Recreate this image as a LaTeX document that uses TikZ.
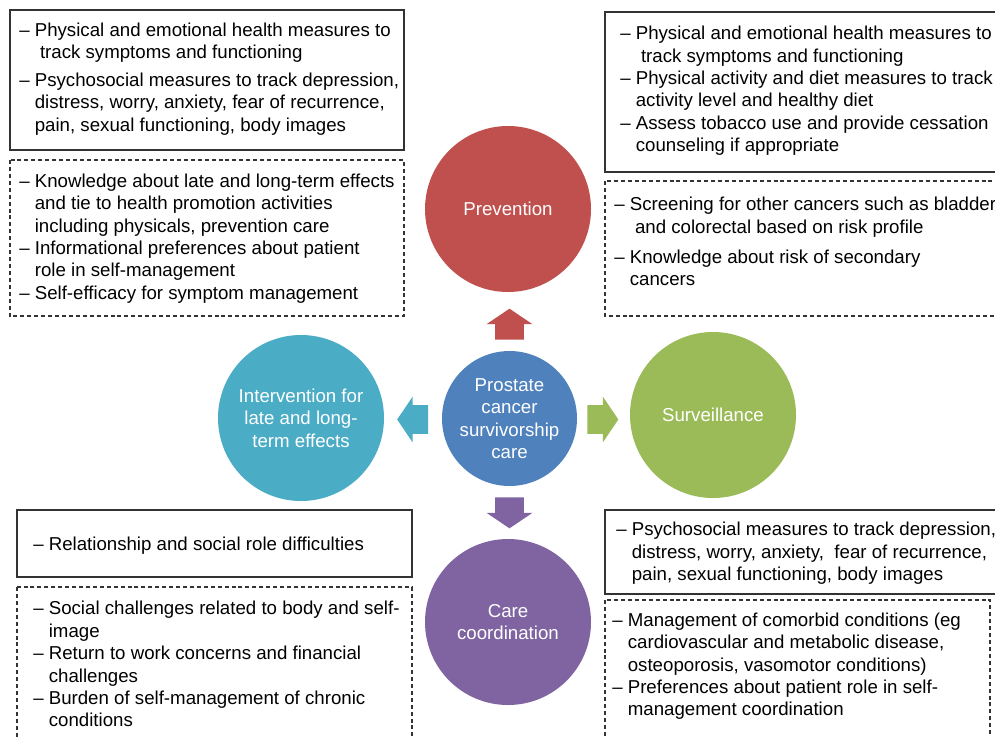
\documentclass[tikz,border=0pt]{standalone}
\usepackage{fontspec}
\setmainfont{Liberation Sans}
\usetikzlibrary{shapes.arrows}

\definecolor{prevred}{HTML}{C0504D}
\definecolor{coreblue}{HTML}{4F81BD}
\definecolor{survgreen}{HTML}{9BBB59}
\definecolor{intcyan}{HTML}{4BACC6}
\definecolor{carepurple}{HTML}{8064A2}

\tikzset{
  solidbox/.style={draw=black!80, line width=0.8pt},
  dashbox/.style={draw=black!80, line width=0.8pt, dash pattern=on 3pt off 2.2pt},
  boxtext/.style={anchor=north west, align=left, inner sep=0pt, font=\fontsize{14}{16.8}\selectfont},
  topic/.style={circle, text=white, align=center, minimum size=124.5pt, inner sep=0pt, font=\fontsize{14}{16.8}\selectfont},
  pointer/.style={single arrow, minimum height=23.25pt, minimum width=33.75pt, single arrow head extend=6.4pt,
    single arrow head indent=0pt, single arrow tip angle=112, inner sep=0pt},
  hpointer/.style={pointer, inner ysep=10.5pt},
  vpointer/.style={pointer, inner xsep=10.5pt},
}
\newcommand{\hang}{\hphantom{– }}

\begin{document}
\begin{tikzpicture}[x=0.75pt,y=-0.75pt]
\useasboundingbox (0,0) rectangle (995,736);
\clip (0,0) rectangle (995,736);

% circles
\node[topic, fill=coreblue, minimum size=101.25pt] (core) at (509.5,418.5) {Prostate\\cancer\\survivorship\\care};
\node[topic, fill=prevred] (prev) at (508,209) {Prevention};
\node[topic, fill=survgreen] (surv) at (713,415) {Surveillance};
\node[topic, fill=intcyan] (interv) at (301,418) {Intervention for\\late and long-\\term effects};
\node[topic, fill=carepurple] (coord) at (508,622) {Care\\coordination};

% block arrows
\node[vpointer, fill=prevred, shape border rotate=90] (toprev) at (509.5,329) {};
\node[hpointer, fill=intcyan, shape border rotate=180] (tointerv) at (417.5,419.5) {};
\node[hpointer, fill=survgreen, shape border rotate=0] (tosurv) at (598,419.5) {};
\node[vpointer, fill=carepurple, shape border rotate=270] (tocoord) at (509.5,508) {};

% boxes
\draw[solidbox] (10,10) rectangle (404,150);
\draw[dashbox] (10,160) rectangle (404,316);
\draw[solidbox] (605,12) rectangle (1000,172);
\draw[dashbox] (605,181) rectangle (1000,316);
\draw[solidbox] (17,510) rectangle (412,577);
\draw[dashbox] (17,587) rectangle (412,745);
\draw[solidbox] (605,510) rectangle (1000,594);
\draw[dashbox] (605,600) rectangle (990,745);

% box texts
\node[boxtext] (tlsolid) at (19,22.5) {– Physical and emotional health measures to\\
\hang\ track symptoms and functioning\\[4pt]
– Psychosocial measures to track depression,\\
\hang distress, worry, anxiety, fear of recurrence,\\
\hang pain, sexual functioning, body images};

\node[boxtext] (tldash) at (19,173.5) {– Knowledge about late and long-term effects\\
\hang and tie to health promotion activities\\
\hang including physicals, prevention care\\
– Informational preferences about patient\\
\hang role in self-management\\
– Self-efficacy for symptom management};

\node[boxtext] (trsolid) at (620,26) {– Physical and emotional health measures to\\
\hang\ track symptoms and functioning\\
– Physical activity and diet measures to track\\
\hang activity level and healthy diet\\
– Assess tobacco use and provide cessation\\
\hang counseling if appropriate};

\node[boxtext] (trdash) at (614,197) {– Screening for other cancers such as bladder\\
\hang\ and colorectal based on risk profile\\[6pt]
– Knowledge about risk of secondary\\
\hang cancers};

\node[boxtext] (blsolid) at (33,536.5) {– Relationship and social role difficulties};

\node[boxtext] (bldash) at (33,601) {– Social challenges related to body and self-\\
\hang image\\
– Return to work concerns and financial\\
\hang challenges\\
– Burden of self-management of chronic\\
\hang conditions};

\node[boxtext] (brsolid) at (616,522) {– Psychosocial measures to track depression,\\
\hang distress, worry, anxiety,\ \ fear of recurrence,\\
\hang pain, sexual functioning, body images};

\node[boxtext] (brdash) at (612,612.5) {– Management of comorbid conditions (eg\\
\hang cardiovascular and metabolic disease,\\
\hang osteoporosis, vasomotor conditions)\\
– Preferences about patient role in self-\\
\hang management coordination};
\end{tikzpicture}
\end{document}
